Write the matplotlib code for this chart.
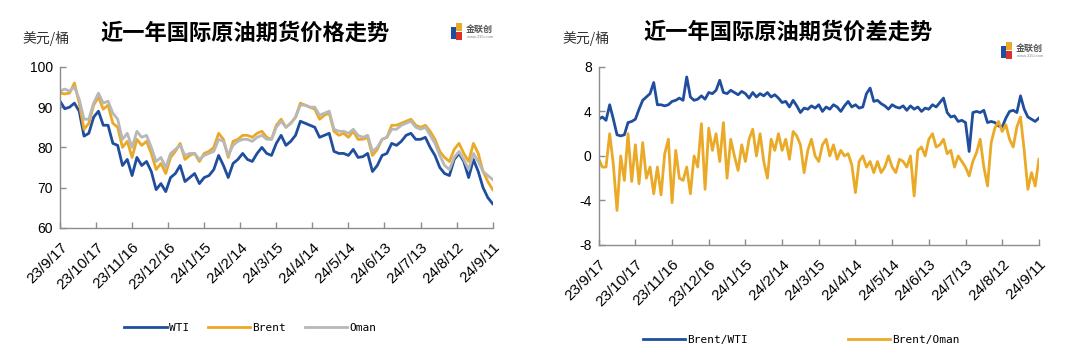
import pandas as pd
import matplotlib
matplotlib.use('Agg')
import matplotlib.pyplot as plt
from matplotlib.patches import Rectangle

plt.rcParams['font.family'] = ['Liberation Sans', 'Noto Sans CJK SC']
plt.rcParams['axes.unicode_minus'] = False

# price chart: one point every 4 days, 2023-09-17 .. 2024-09-11
price_dates = pd.date_range('2023-09-17', '2024-09-11', freq='4D')
wti = [91.5, 89.6, 90.0, 91.0, 89.0, 82.8, 83.5, 87.5, 89.0, 85.5,
       85.5, 81.0, 80.5, 75.5, 77.0, 73.0, 77.5, 75.5, 76.5, 74.0,
       69.5, 71.0, 69.0, 72.5, 73.5, 75.5, 71.5, 72.5, 73.5, 71.0,
       72.5, 73.0, 74.5, 78.0, 75.5, 72.5, 76.0, 77.0, 78.5, 77.0,
       76.5, 78.5, 80.0, 78.5, 78.0, 81.0, 83.0, 80.5, 81.5, 83.0,
       86.5, 86.0, 85.5, 85.0, 82.5, 83.0, 83.5, 79.0, 78.5, 78.5,
       78.0, 79.5, 77.5, 77.7, 78.5, 74.0, 75.5, 78.0, 78.5, 81.0,
       80.5, 81.5, 83.0, 83.5, 82.0, 82.0, 82.5, 80.0, 78.0, 75.0,
       73.5, 73.0, 77.0, 78.5, 76.5, 72.5, 77.0, 74.0, 70.0, 67.5,
       66.0]
brent = [93.5, 93.3, 93.5, 96.0, 91.0, 84.5, 86.0, 90.5, 92.5, 89.5,
         90.5, 86.0, 85.0, 80.0, 81.5, 77.5, 82.0, 80.5, 81.5, 78.5,
         74.5, 76.0, 73.5, 77.5, 79.0, 81.0, 77.0, 78.0, 78.5, 76.5,
         78.5, 79.0, 80.0, 83.5, 82.0, 77.5, 81.5, 82.0, 83.0, 83.0,
         82.5, 83.5, 84.0, 82.5, 82.0, 85.5, 87.0, 85.0, 86.0, 87.5,
         91.0, 90.5, 90.0, 89.5, 87.0, 88.0, 88.5, 84.0, 83.0, 83.5,
         82.5, 84.0, 82.0, 82.0, 82.5, 78.0, 79.5, 82.0, 82.5, 85.5,
         85.5, 86.0, 86.5, 87.0, 85.5, 85.0, 85.5, 84.0, 82.0, 79.0,
         77.5, 76.5, 79.5, 81.0, 78.5, 76.5, 81.0, 78.5, 74.0, 71.5,
         69.5]
oman = [94.0, 94.5, 94.0, 95.0, 92.0, 87.0, 87.0, 91.0, 93.5, 91.0,
        91.5, 88.5, 87.0, 82.0, 83.5, 80.0, 84.0, 82.5, 83.0, 80.0,
        76.5, 77.5, 75.0, 78.5, 79.5, 80.5, 78.0, 78.5, 78.5, 77.0,
        78.0, 78.5, 79.0, 82.0, 81.5, 78.0, 80.5, 81.5, 82.0, 82.0,
        81.5, 82.5, 83.0, 82.0, 82.0, 85.0, 86.5, 85.0, 86.0, 87.5,
        90.5, 90.5, 90.0, 90.0, 88.0, 88.5, 89.0, 84.5, 84.0, 84.0,
        83.5, 84.5, 83.0, 82.5, 83.0, 79.0, 80.0, 82.0, 82.5, 84.5,
        84.5, 85.5, 86.0, 86.5, 85.0, 84.5, 85.0, 83.0, 81.0, 78.0,
        75.5, 74.5, 77.5, 79.0, 77.0, 74.5, 78.5, 76.5, 74.0, 73.0,
        72.0]

# spread chart: one point every 3 days
spread_dates = pd.date_range('2023-09-17', '2024-09-11', freq='3D')
brent_wti = [3.3, 3.5, 3.2, 4.6, 3.3, 1.9, 1.8, 1.9, 3.0, 3.1,
             3.3, 4.2, 5.0, 5.3, 5.6, 6.6, 4.6, 4.6, 4.5, 4.6,
             4.9, 5.0, 5.2, 5.0, 7.1, 5.3, 5.0, 5.1, 5.4, 5.1,
             5.7, 5.6, 5.9, 6.8, 5.7, 5.6, 5.9, 5.7, 5.5, 5.8,
             5.6, 5.2, 5.7, 5.3, 5.6, 5.4, 5.7, 5.3, 5.5, 5.2,
             4.8, 4.9, 4.4, 5.0, 4.5, 3.9, 4.3, 4.2, 4.5, 4.3,
             4.6, 4.0, 4.4, 4.2, 4.6, 4.4, 4.0, 4.5, 4.9, 4.4,
             4.6, 4.3, 4.4, 5.6, 6.1, 4.9, 5.0, 4.7, 4.5, 4.2,
             4.6, 4.4, 4.3, 4.5, 4.1, 4.5, 4.2, 4.4, 4.0, 4.3,
             4.2, 4.6, 4.4, 4.8, 5.2, 3.9, 3.5, 3.6, 3.1, 3.2,
             3.0, 0.4, 3.9, 4.0, 3.9, 4.1, 3.0, 3.1, 3.0, 2.7,
             2.6, 3.4, 4.0, 4.1, 3.9, 5.4, 4.2, 3.5, 3.3, 3.1,
             3.4]
brent_oman = [-0.3, -1.0, -1.0, 2.0, -0.8, -4.9, 0.0, -2.2, 2.0, -2.3,
              1.0, -2.5, 1.2, -2.0, -1.0, -3.4, -1.0, -3.5, 0.2, 1.5,
              -4.2, 0.5, -2.0, -2.2, -1.0, -3.4, 0.0, -1.0, 2.9, -3.0,
              2.5, 0.5, 2.0, -0.5, 3.0, -2.0, 1.5, 0.0, -1.3, 1.0,
              -0.5, 1.5, 2.4, 0.0, 2.0, -0.5, -2.0, 1.5, 0.5, 2.0,
              0.5, 1.5, -0.3, 2.2, 1.8, 1.0, -1.5, 0.5, 1.5, 0.0,
              -0.5, 1.0, 1.5, 0.0, 1.0, -0.3, 0.5, 0.0, 0.2, -0.8,
              -3.3, -0.5, 0.0, -1.0, -0.5, -1.5, -0.5, -1.5, -1.0, 0.0,
              -1.0, -1.5, -0.3, -0.5, -1.0, 0.0, -3.6, 0.5, 0.8, 0.0,
              1.5, 2.0, 0.8, 1.0, 1.5, 0.2, 0.5, -1.0, 0.0, -0.5,
              -1.0, -1.8, -0.5, 0.3, 1.5, -1.0, -2.7, 1.2, 2.5, 3.1,
              2.2, 2.8, 1.5, 0.8, 2.6, 3.5, 0.5, -3.0, -1.5, -2.7,
              -0.3]

tick_dates = pd.date_range('2023-09-17', '2024-09-11', freq='30D')
tick_labels = [f'{d.year % 100}/{d.month}/{d.day}' for d in tick_dates]

BLUE = '#1f4e9e'
ORANGE = '#eaa926'
GRAY = '#b8b8b8'
SPINE = '#8c8c8c'

W, H = 1071, 356
fig = plt.figure(figsize=(W / 100, H / 100), dpi=100)
ax1 = fig.add_axes([0.056, 0.36, 0.404, 0.452])
ax2 = fig.add_axes([0.559, 0.312, 0.411, 0.50])


def style_axis(ax):
    for side in ['top', 'right']:
        ax.spines[side].set_visible(False)
    for side in ['left', 'bottom']:
        ax.spines[side].set_color(SPINE)
        ax.spines[side].set_linewidth(1.0)
    ax.set_xlim(tick_dates[0], tick_dates[-1])
    ax.set_xticks(tick_dates)
    ax.set_xticklabels(tick_labels, rotation=45, ha='right', rotation_mode='anchor',
                       fontsize=11)
    ax.tick_params(axis='both', direction='in', color=SPINE, length=4, width=1)
    ax.tick_params(axis='y', labelsize=10, pad=5)
    ax.tick_params(axis='x', pad=9)


def draw_logo(x, y):
    # small three-colour mark plus company name, in pixel coords (top-left origin)
    for dx, dy, w, h, c in [(0, 4, 5, 12, '#1f4e9e'), (5, 0, 6, 8, '#eaa926'),
                            (5, 9, 6, 8, '#d9322b')]:
        fig.patches.append(Rectangle(((x + dx) / W, 1 - (y + dy + h) / H), w / W, h / H,
                                     transform=fig.transFigure, color=c, lw=0))
    fig.text((x + 15) / W, 1 - (y + 6) / H, '金联创', ha='left', va='center',
             fontsize=6.5, fontweight='bold', family='Noto Sans CJK SC', color='#555555')
    fig.text((x + 16) / W, 1 - (y + 14) / H, 'www.315i.com', ha='left', va='center',
             fontsize=3, color='#888888')


leg_font = {'family': 'DejaVu Sans Mono', 'size': 8}

# ---------------- left: prices ----------------
ax1.plot(price_dates, wti, color=BLUE, lw=2.0, label='WTI')
ax1.plot(price_dates, brent, color=ORANGE, lw=2.0, label='Brent')
ax1.plot(price_dates, oman, color=GRAY, lw=2.0, label='Oman')
ax1.set_ylim(60, 100)
ax1.set_yticks([60, 70, 80, 90, 100])
style_axis(ax1)
ax1.legend(loc='center', bbox_to_anchor=(0.44, -0.62), ncol=3, frameon=False,
           prop=leg_font, handlelength=3.8, handletextpad=0.2, columnspacing=1.7)

# ---------------- right: spreads ----------------
ax2.plot(spread_dates, brent_wti, color=BLUE, lw=2.0, label='Brent/WTI')
ax2.plot(spread_dates, brent_oman, color=ORANGE, lw=2.0, label='Brent/Oman')
ax2.set_ylim(-8, 8)
ax2.set_yticks([-8, -4, 0, 4, 8])
style_axis(ax2)
ax2.legend(loc='center', bbox_to_anchor=(0.46, -0.535), ncol=2, frameon=False,
           prop=leg_font, handlelength=3.8, handletextpad=0.2, columnspacing=9)

# titles, units, logos
fig.text(245 / W, 1 - 33 / H, '近一年国际原油期货价格走势', ha='center', va='center',
         fontsize=16, fontweight='bold', family='Noto Sans CJK SC')
fig.text(788 / W, 1 - 32 / H, '近一年国际原油期货价差走势', ha='center', va='center',
         fontsize=16, fontweight='bold', family='Noto Sans CJK SC')
fig.text(22 / W, 1 - 39 / H, '美元/桶', ha='left', va='center', fontsize=10,
         family='Noto Sans CJK SC', color='#333333')
fig.text(562 / W, 1 - 39 / H, '美元/桶', ha='left', va='center', fontsize=10,
         family='Noto Sans CJK SC', color='#333333')
draw_logo(451, 23)
draw_logo(1001, 42)

plt.savefig('out.png', dpi=100)
plt.close()
